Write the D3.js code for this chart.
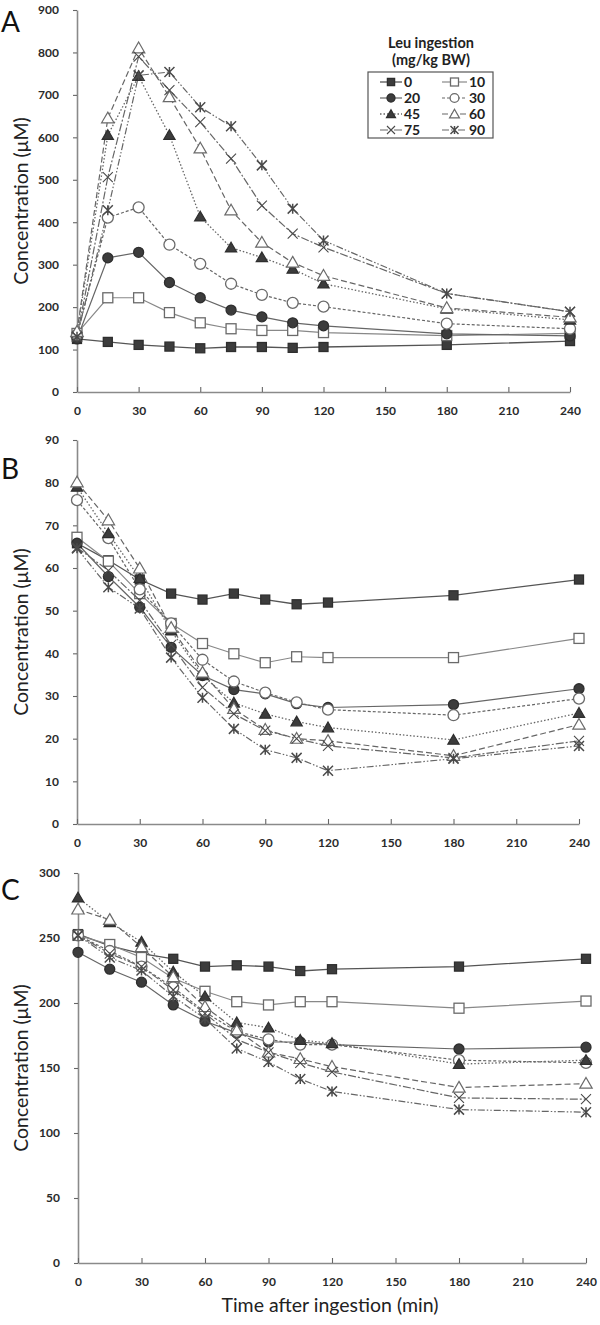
<!DOCTYPE html>
<html>
<head>
<meta charset="utf-8">
<script src="https://cdn.jsdelivr.net/npm/d3@7/dist/d3.min.js"></script>
<style>
  html, body { margin: 0; padding: 0; background: #fff; }
  svg { display: block; }
  text { font-family: Lato, "Open Sans", sans-serif; }
</style>
</head>
<body>
<svg id="chart" width="600" height="1325"></svg>
<script>
// ---------------- DATA ----------------
const times = [0, 15, 30, 45, 60, 75, 90, 105, 120, 180, 240];
const doses = ["0", "10", "20", "30", "45", "60", "75", "90"];
const xTicks = [0, 30, 60, 90, 120, 150, 180, 210, 240];

// Panel A (Leu)
const A_0  = [125, 118, 111, 107, 103, 106, 106, 104, 106, 111, 120];
const A_10 = [138, 222, 222, 187, 163, 149, 145, 145, 140, 133, 138];
const A_20 = [125, 316, 329, 258, 222, 193, 177, 163, 156, 137, 132];
const A_30 = [135, 411, 435, 347, 302, 255, 229, 210, 201, 161, 149];
const A_45 = [140, 605, 744, 605, 413, 340, 317, 290, 255, 196, 170];
const A_60 = [142, 645, 810, 695, 574, 428, 352, 305, 274, 198, 176];
const A_75 = [130, 506, 790, 711, 636, 550, 439, 373, 341, 232, 189];
const A_90 = [130, 428, 746, 754, 671, 626, 534, 432, 357, 232, 189];
const A_yTicks = [0, 100, 200, 300, 400, 500, 600, 700, 800, 900];

// Panel B
const B_0  = [65.8, 61.8, 57.3, 54.0, 52.6, 54.0, 52.6, 51.5, 51.9, 53.6, 57.3];
const B_10 = [67.2, 61.6, 54.0, 47.0, 42.3, 39.9, 37.8, 39.2, 39.0, 39.0, 43.5];
const B_20 = [65.8, 58.0, 50.8, 41.4, 34.8, 31.5, 30.5, 28.2, 27.3, 28.0, 31.7];
const B_30 = [75.9, 67.0, 55.0, 47.0, 38.5, 33.4, 30.8, 28.5, 26.8, 25.5, 29.4];
const B_45 = [79.0, 68.1, 57.6, 45.3, 34.8, 28.4, 25.8, 24.0, 22.6, 19.7, 26.0];
const B_60 = [80.1, 71.2, 59.9, 46.0, 35.5, 27.0, 22.1, 20.0, 19.5, 16.0, 23.3];
const B_75 = [64.8, 59.4, 52.4, 42.0, 32.0, 25.8, 21.9, 20.0, 18.3, 15.5, 19.5];
const B_90 = [64.6, 55.5, 50.5, 39.0, 29.6, 22.3, 17.4, 15.5, 12.5, 15.3, 18.3];
const B_yTicks = [0, 10, 20, 30, 40, 50, 60, 70, 80, 90];

// Panel C
const C_0  = [253, 244, 238, 234, 228, 229, 228, 224.6, 226, 228, 234];
const C_10 = [252, 245, 235, 219, 209, 201, 198.5, 201, 201, 196, 201.5];
const C_20 = [239, 226, 216, 198.5, 186, 177, 170, 170, 168, 164.6, 166];
const C_30 = [252, 240, 228, 212, 193, 178, 172, 168, 168, 156, 154];
const C_45 = [281, 262, 247, 224, 205, 185, 181, 171.5, 169, 153, 156];
const C_60 = [272, 264, 243, 220, 197, 179, 162, 157, 151, 135, 138];
const C_75 = [252, 238, 228, 210, 192, 172, 162, 154, 147, 127, 126];
const C_90 = [252, 235, 225, 205, 188, 165, 154.6, 141.5, 132, 118, 116];
const C_yTicks = [0, 50, 100, 150, 200, 250, 300];

const legendTitle1 = "Leu ingestion";
const legendTitle2 = "(mg/kg BW)";
const yTitle = "Concentration (\u03BCM)";
const xTitle = "Time after ingestion (min)";

// ---------------- STYLES ----------------
const styles = {
  "0":  {shape: "square",   filled: true,  size: 9,  dash: null,          stroke: "#555", w: 1.3},
  "10": {shape: "square",   filled: false, size: 10, dash: null,          stroke: "#888", w: 1.2},
  "20": {shape: "circle",   filled: true,  size: 10, dash: null,          stroke: "#666", w: 1.2},
  "30": {shape: "circle",   filled: false, size: 11, dash: "3,2",         stroke: "#666", w: 1.2},
  "45": {shape: "triangle", filled: true,  size: 10, dash: "1.5,2",       stroke: "#666", w: 1.3},
  "60": {shape: "triangle", filled: false, size: 11, dash: "6,3",         stroke: "#666", w: 1.2},
  "75": {shape: "x",        filled: false, size: 10, dash: "8,2,2,2",     stroke: "#666", w: 1.2},
  "90": {shape: "asterisk", filled: false, size: 10, dash: "7,2,1.5,2,1.5,2", stroke: "#666", w: 1.2}
};

const panels = [
  {letter: "A", series: [A_0, A_10, A_20, A_30, A_45, A_60, A_75, A_90], yTicks: A_yTicks,
   yMax: 900, xr: [77, 570], yr: [392, 10], letterY: 32},
  {letter: "B", series: [B_0, B_10, B_20, B_30, B_45, B_60, B_75, B_90], yTicks: B_yTicks,
   yMax: 90, xr: [77, 579], yr: [824, 440], letterY: 479},
  {letter: "C", series: [C_0, C_10, C_20, C_30, C_45, C_60, C_75, C_90], yTicks: C_yTicks,
   yMax: 300, xr: [78, 586], yr: [1263, 873], letterY: 900}
];

const svg = d3.select("#chart");

function drawMarker(g, st, x, y, scale) {
  const s = st.size * (scale || 1);
  const fill = st.filled ? "#3c3c3c" : "#fff";
  const stroke = st.filled ? "#2e2e2e" : "#6a6a6a";
  if (st.shape === "square") {
    g.append("rect").attr("x", x - s/2).attr("y", y - s/2).attr("width", s).attr("height", s)
      .attr("fill", fill).attr("stroke", stroke).attr("stroke-width", 1.3);
  } else if (st.shape === "circle") {
    g.append("circle").attr("cx", x).attr("cy", y).attr("r", s/2)
      .attr("fill", fill).attr("stroke", stroke).attr("stroke-width", 1.3);
  } else if (st.shape === "triangle") {
    const sym = d3.symbol().type(d3.symbolTriangle).size(s * s * 0.55);
    g.append("path").attr("d", sym()).attr("transform", `translate(${x},${y + 1})`)
      .attr("fill", fill).attr("stroke", stroke).attr("stroke-width", 1.2);
  } else if (st.shape === "x" || st.shape === "asterisk") {
    const h = s/2;
    let d = `M${x-h},${y-h}L${x+h},${y+h}M${x-h},${y+h}L${x+h},${y-h}`;
    if (st.shape === "asterisk") d += `M${x},${y-h}L${x},${y+h}`;
    g.append("path").attr("d", d).attr("fill", "none")
      .attr("stroke", "#4a4a4a").attr("stroke-width", st.shape === "asterisk" ? 1.5 : 1.1);
  }
}

panels.forEach(p => {
  const x = d3.scaleLinear().domain([0, 240]).range(p.xr);
  const y = d3.scaleLinear().domain([0, p.yMax]).range(p.yr);
  const g = svg.append("g");

  const yAxis = d3.axisLeft(y).tickValues(p.yTicks).tickSize(4).tickPadding(14).tickSizeOuter(0);
  const ya = g.append("g").attr("transform", `translate(${p.xr[0]},0)`).call(yAxis);
  const xAxis = d3.axisBottom(x).tickValues(xTicks).tickSize(-5).tickPadding(12).tickSizeOuter(0);
  const xa = g.append("g").attr("transform", `translate(0,${p.yr[0]})`).call(xAxis);

  [ya, xa].forEach(a => {
    a.select(".domain").attr("stroke", "#8a8a8a").attr("stroke-width", 1.6);
    a.selectAll(".tick line").attr("stroke", "#666").attr("stroke-width", 1.1);
    a.selectAll(".tick text").attr("fill", "#2a2a2a").attr("font-size", 12)
      .attr("font-weight", 700).attr("font-family", "Lato, sans-serif");
  });
  xa.selectAll(".tick text").attr("dy", "0.95em");

  svg.append("text").attr("x", 1).attr("y", p.letterY).text(p.letter)
    .attr("font-family", "'Liberation Sans', Arial, sans-serif").attr("font-size", 28)
    .attr("fill", "#111");

  const cy = (p.yr[0] + p.yr[1]) / 2;
  svg.append("text").attr("transform", `translate(28,${cy}) rotate(-90)`)
    .attr("text-anchor", "middle").attr("font-size", 19.5).attr("fill", "#222")
    .text(yTitle);

  p.series.forEach((vals, i) => {
    const st = styles[doses[i]];
    const line = d3.line().x((d, j) => x(times[j])).y(d => y(d));
    g.append("path").datum(vals).attr("d", line).attr("fill", "none")
      .attr("stroke", st.stroke).attr("stroke-width", st.w)
      .attr("stroke-dasharray", st.dash);
  });
  p.series.forEach((vals, i) => {
    const st = styles[doses[i]];
    const mg = g.append("g");
    vals.forEach((v, j) => drawMarker(mg, st, x(times[j]), y(v)));
  });
});

svg.append("text").attr("x", 330).attr("y", 1312).attr("text-anchor", "middle")
  .attr("font-size", 19.5).attr("fill", "#222").text(xTitle);

// legend
const lg = svg.append("g");
lg.append("text").attr("x", 431).attr("y", 48).attr("text-anchor", "middle")
  .attr("font-size", 14.5).attr("font-weight", 700).attr("fill", "#222").text(legendTitle1);
lg.append("text").attr("x", 431).attr("y", 65).attr("text-anchor", "middle")
  .attr("font-size", 14.5).attr("font-weight", 700).attr("fill", "#222").text(legendTitle2);
lg.append("rect").attr("x", 368).attr("y", 72).attr("width", 125).attr("height", 66)
  .attr("fill", "#fff").attr("stroke", "#555").attr("stroke-width", 1.2);
doses.forEach((d, i) => {
  const st = styles[d];
  const col = i % 2, row = Math.floor(i / 2);
  const cyL = 82 + row * 16;
  const x0 = col === 0 ? 380 : 442, x1 = col === 0 ? 402 : 467;
  const mx = (x0 + x1) / 2;
  lg.append("line").attr("x1", x0).attr("x2", x1).attr("y1", cyL).attr("y2", cyL)
    .attr("stroke", st.stroke).attr("stroke-width", st.w).attr("stroke-dasharray", st.dash);
  drawMarker(lg, st, mx, cyL, 0.8);
  lg.append("text").attr("x", x1 + 2).attr("y", cyL + 5).attr("font-size", 14)
    .attr("font-weight", 700).attr("fill", "#222").text(d);
});
</script>
</body>
</html>
